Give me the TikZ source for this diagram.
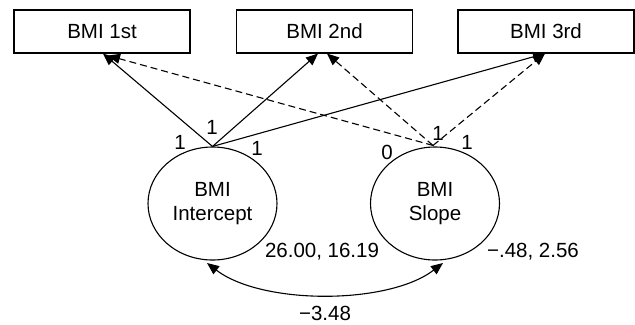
\documentclass[tikz,border=0pt]{standalone}
\usepackage{fontspec}
\setmainfont{Liberation Sans}
\usetikzlibrary{shapes.geometric,arrows.meta}
\begin{document}
\begin{tikzpicture}[x=1bp,y=-1bp,
  font=\fontsize{20.5bp}{24bp}\selectfont,
  every node/.style={inner sep=0pt},
  obs/.style={draw, line width=1.1bp, minimum width=176bp, minimum height=43bp},
  lat/.style={draw, ellipse, line width=1.1bp, minimum width=129bp, minimum height=113bp, align=center},
  conn/.style={line width=1.1bp, -{Triangle[length=12bp,width=10bp]}},
  dconn/.style={conn, dash pattern=on 7bp off 4bp},
  lbl/.style={anchor=center}]
\useasboundingbox (0,0) rectangle (635,324);
\node[obs] (b1) at (102,31.5) {BMI 1st};
\node[obs] (b2) at (324.5,31.5) {BMI 2nd};
\node[obs] (b3) at (546,31.5) {BMI 3rd};
\node[lat] (i) at (212.5,203.5) {BMI\\Intercept};
\node[lat] (s) at (435,203.5) {BMI\\Slope};
\coordinate (io) at (i.north);
\coordinate (so) at ([xshift=-2bp,yshift=1bp]s.north);
\draw[conn] (io) -- ([xshift=1bp]b1.south);
\draw[conn] (io) -- ([xshift=-6.5bp]b2.south);
\draw[conn] (io) -- ([xshift=-1bp]b3.south);
\draw[dconn] (so) -- ([xshift=6bp,yshift=-2bp]b1.south);
\draw[dconn] (so) -- ([xshift=2.5bp]b2.south);
\draw[dconn] (so) -- ([xshift=-1bp]b3.south);
\draw[line width=1.1bp, {Triangle[length=12bp,width=10bp]}-{Triangle[length=12bp,width=10bp]}]
  (207,263) .. controls (262,305) and (388,305) .. (443,263);
\node[lbl] (l1) at (180,142) {1};
\node[lbl] (l2) at (212,127) {1};
\node[lbl] (l3) at (257,148) {1};
\node[lbl] (l4) at (387,152) {0};
\node[lbl] (l5) at (438,133) {1};
\node[lbl] (l6) at (467,142) {1};
\node[lbl] (v1) at (322,252) {26.00, 16.19};
\node[lbl] (v2) at (533,252) {−.48, 2.56};
\node[lbl] (c) at (325,313) {−3.48};
\end{tikzpicture}
\end{document}
